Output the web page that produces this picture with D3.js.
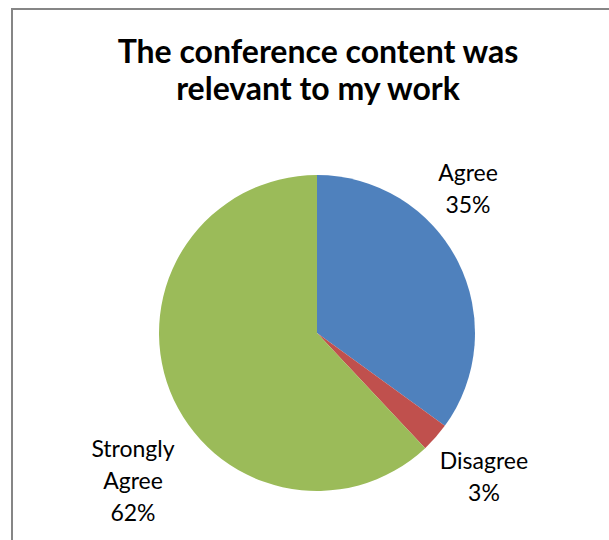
<!DOCTYPE html>
<html>
<head>
<meta charset="utf-8">
<script src="https://cdn.jsdelivr.net/npm/d3@7"></script>
<style>
  body { margin: 0; background: #fff; }
  svg { display: block; }
</style>
</head>
<body>
<svg id="chart" width="609" height="540"></svg>
<script>
// data
const categories = ["Agree", "Disagree", "Strongly Agree"]
const values = [35, 3, 62]
const colors = ["#4F81BD", "#C0504D", "#9BBB59"]
const titleLines = ["The conference content was", "relevant to my work"]

// where excel put the labels (center x, first baseline y)
const labelSpots = [[468, 181], [484, 469], [133, 457]]

const svg = d3.select('#chart')
const W = 609, H = 540

// chart area border (runs off right and bottom)
svg.append('rect')
    .attr('x', 12).attr('y', 9)
    .attr('width', W + 20).attr('height', H + 20)
    .attr('fill', '#fff')
    .attr('stroke', '#868686')
    .attr('stroke-width', 2)

const font = "Lato, 'Open Sans', sans-serif"

svg.append('text')
    .attr('x', 318)
    .attr('font-family', font)
    .attr('font-weight', 'bold')
    .attr('font-size', 32)
    .attr('text-anchor', 'middle')
    .selectAll('tspan')
    .data(titleLines)
    .enter()
    .append('tspan')
    .attr('x', 318)
    .attr('y', (d, i) => 63 + i * 37)
    .text(d => d)

const cx = 317, cy = 333, r = 158

const pie = d3.pie().sort(null).value(d => d)
const arc = d3.arc().innerRadius(0).outerRadius(r)

const g = svg.append('g').attr('transform', `translate(${cx}, ${cy})`)

g.selectAll('path')
    .data(pie(values))
    .enter()
    .append('path')
    .attr('d', arc)
    .attr('fill', (d, i) => colors[i])

const total = d3.sum(values)
const labels = svg.append('g')
    .attr('font-family', font)
    .attr('font-size', 23)
    .attr('fill', '#000')
    .attr('text-anchor', 'middle')

categories.forEach((c, i) => {
    const lines = c.split(' ')
    lines.push(Math.round(values[i] / total * 100) + '%')
    const t = labels.append('text')
    lines.forEach((l, j) => {
        t.append('tspan')
            .attr('x', labelSpots[i][0])
            .attr('y', labelSpots[i][1] + j * 32)
            .text(l)
    })
})
</script>
</body>
</html>
